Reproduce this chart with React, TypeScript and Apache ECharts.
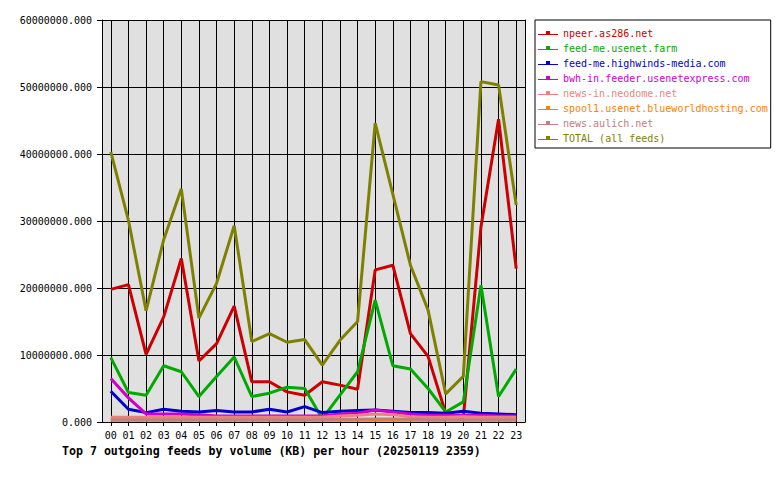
import React, { useEffect, useRef } from "react";
import * as echarts from "echarts";

const hours = ["00","01","02","03","04","05","06","07","08","09","10","11","12","13","14","15","16","17","18","19","20","21","22","23"];

const seriesNames = [
  "npeer.as286.net",
  "feed-me.usenet.farm",
  "feed-me.highwinds-media.com",
  "bwh-in.feeder.usenetexpress.com",
  "news-in.neodome.net",
  "spool1.usenet.blueworldhosting.com",
  "news.aulich.net",
  "TOTAL (all feeds)",
];

const seriesColors = ["#cc0000", "#00aa00", "#0000cc", "#cc00cc", "#f08080", "#ff8000", "#c08080", "#808000"];

const npeer = [19800000, 20500000, 10100000, 15700000, 24400000, 9100000, 11700000, 17300000, 6000000, 6000000, 4500000, 4000000, 6000000, 5500000, 4900000, 22700000, 23400000, 13200000, 9800000, 1300000, 600000, 29100000, 45200000, 22900000];
const usenetFarm = [9600000, 4400000, 4000000, 8400000, 7500000, 3800000, 6800000, 9700000, 3800000, 4300000, 5200000, 5000000, 500000, 4000000, 7500000, 18200000, 8400000, 7900000, 5000000, 1500000, 3000000, 20400000, 3800000, 7900000];
const highwinds = [4600000, 1900000, 1400000, 1900000, 1600000, 1500000, 1700000, 1500000, 1500000, 1900000, 1500000, 2300000, 1400000, 1600000, 1700000, 1800000, 1600000, 1400000, 1400000, 1300000, 1600000, 1300000, 1200000, 1100000];
const usenetExpress = [6500000, 3600000, 1200000, 1200000, 1200000, 1100000, 900000, 900000, 900000, 900000, 900000, 900000, 900000, 1200000, 1300000, 1800000, 1500000, 1200000, 1000000, 1000000, 1000000, 1000000, 900000, 900000];
const neodome = [700000, 700000, 700000, 700000, 700000, 700000, 700000, 700000, 700000, 700000, 700000, 700000, 700000, 900000, 1000000, 1200000, 1100000, 800000, 700000, 700000, 800000, 700000, 700000, 700000];
const blueworld = [250000, 250000, 250000, 250000, 250000, 250000, 250000, 250000, 250000, 250000, 250000, 250000, 250000, 250000, 250000, 250000, 250000, 250000, 250000, 250000, 250000, 250000, 250000, 250000];
const aulich = [350000, 350000, 350000, 350000, 350000, 350000, 350000, 350000, 350000, 350000, 350000, 350000, 350000, 400000, 400000, 450000, 450000, 400000, 350000, 350000, 350000, 350000, 350000, 350000];
const total = [40300000, 30100000, 16600000, 27200000, 34800000, 15500000, 20700000, 29300000, 12000000, 13200000, 11900000, 12300000, 8500000, 12200000, 15000000, 44600000, 34000000, 23400000, 16700000, 4200000, 6800000, 50800000, 50300000, 32400000];

const seriesData = [npeer, usenetFarm, highwinds, usenetExpress, neodome, blueworld, aulich, total];

const titleText = "Top 7 outgoing feeds by volume (KB) per hour (20250119 2359)";

const MONO = "'DejaVu Sans Mono', 'Liberation Mono', monospace";

export default function App() {
  const ref = useRef<HTMLDivElement>(null);

  useEffect(() => {
    if (!ref.current) return;
    const chart = echarts.init(ref.current, undefined, { renderer: "svg" });
    const option: any = {
      animation: false,
      backgroundColor: "#ffffff",
      title: {
        text: titleText,
        left: 62,
        top: 445,
        padding: 0,
        textStyle: { fontFamily: MONO, fontSize: 11.6, fontWeight: "bold", color: "#000" },
      },
      legend: {
        orient: "vertical",
        left: 535,
        top: 20,
        padding: [8, 3, 5, 3],
        itemGap: 5,
        itemWidth: 20,
        itemHeight: 4,
        borderColor: "#000",
        borderWidth: 1,
        backgroundColor: "#ffffff",
        selectedMode: false,
        icon: "path://M0,3 L20,3 L20,4 L0,4 Z M8,0 L12,0 L12,3 L8,3 Z",
        itemStyle: { borderWidth: 0 },
        textStyle: { fontFamily: MONO, fontSize: 10, lineHeight: 10 },
        data: seriesNames.map((n, i) => ({ name: n, textStyle: { color: seriesColors[i] } })),
      },
      grid: { left: 102, top: 20, right: 255, bottom: 58, show: true, backgroundColor: "#e0e0e0", borderWidth: 0 },
      xAxis: {
        type: "category",
        data: hours,
        boundaryGap: true,
        axisLine: { show: true, lineStyle: { color: "#000", width: 1 } },
        axisTick: { show: true, alignWithLabel: true, length: 4, lineStyle: { color: "#000" } },
        splitLine: { show: true, alignWithLabel: true, lineStyle: { color: "#000", width: 1 } },
        axisLabel: { margin: 8, fontFamily: MONO, fontSize: 10, color: "#000", interval: 0 },
      },
      yAxis: [
        {
          type: "value",
          min: 0,
          max: 60000000,
          interval: 10000000,
          axisLine: { show: true, lineStyle: { color: "#000", width: 1 } },
          axisTick: { show: true, length: 5, lineStyle: { color: "#000" } },
          splitLine: { show: true, lineStyle: { color: "#000", width: 1 } },
          axisLabel: {
            margin: 10,
            fontFamily: MONO,
            fontSize: 10,
            color: "#000",
            formatter: (v: number) => v.toFixed(3),
          },
        },
        {
          type: "value",
          position: "right",
          min: 0,
          max: 60000000,
          interval: 10000000,
          axisLine: { show: true, lineStyle: { color: "#000", width: 1 } },
          axisTick: { show: false },
          splitLine: { show: false },
          axisLabel: { show: false },
        },
      ],
      series: seriesNames.map((n, i) => ({
        name: n,
        type: "line",
        data: seriesData[i],
        yAxisIndex: 0,
        symbol: "none",
        color: seriesColors[i],
        lineStyle: { width: 3, color: seriesColors[i] },
        emphasis: { disabled: true },
      })),
    };
    chart.setOption(option);
    return () => chart.dispose();
  }, []);

  return <div ref={ref} style={{ width: 780, height: 480, position: "absolute", left: 0, top: 0 }} />;
}
